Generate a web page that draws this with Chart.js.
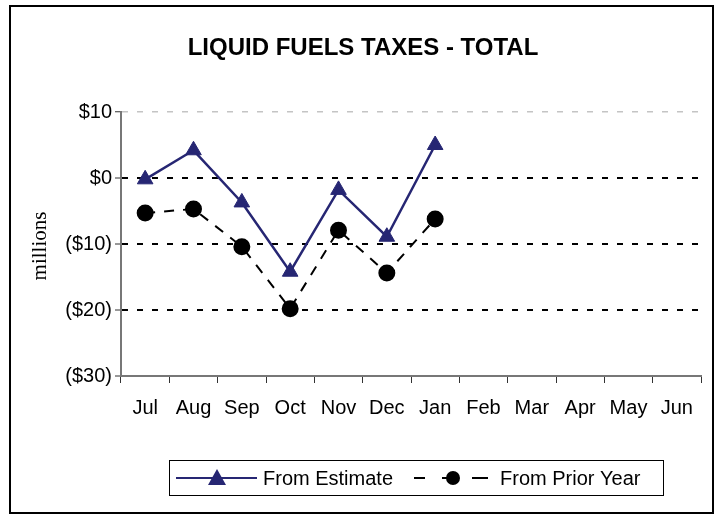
<!DOCTYPE html>
<html>
<head>
<meta charset="utf-8">
<script src="https://cdn.jsdelivr.net/npm/chart.js@4.4.0/dist/chart.umd.min.js"></script>
<style>
  html, body { margin: 0; padding: 0; background: #fff; }
  #wrap { width: 718px; height: 519px; position: relative; }
</style>
</head>
<body>
<div id="wrap"><canvas id="fuels" width="718" height="519"></canvas></div>
<script>
// data
const months = ["Jul", "Aug", "Sep", "Oct", "Nov", "Dec", "Jan", "Feb", "Mar", "Apr", "May", "Jun"];
const fromEstimate = [-0.2, 4.2, -3.7, -14.2, -1.8, -8.9, 5.0, null, null, null, null, null];
const fromPriorYear = [-5.3, -4.7, -10.4, -19.8, -7.9, -14.4, -6.2, null, null, null, null, null];
const yTicks = [10, 0, -10, -20, -30];

const NAVY = "#262673";
const AXIS = "#777777";

function money(v) {
  if (v < 0) return "($" + Math.abs(v) + ")";
  return "$" + v;
}

// frame, title, y label and the legend box
const decor = {
  id: "decor",
  beforeDraw(chart) {
    const c = chart.ctx;
    c.save();
    c.fillStyle = "#fff";
    c.fillRect(0, 0, chart.width, chart.height);
    c.restore();
  },
  afterDraw(chart) {
    const c = chart.ctx;
    c.save();
    // outer frame
    c.strokeStyle = "#000";
    c.lineWidth = 2;
    c.strokeRect(10, 6, 703, 507);

    // title
    c.fillStyle = "#000";
    c.font = "bold 24px 'Liberation Sans', Arial, sans-serif";
    c.textAlign = "center";
    c.textBaseline = "middle";
    c.fillText("LIQUID FUELS TAXES - TOTAL", 363, 48);

    // y axis title
    c.save();
    c.translate(40, 246);
    c.rotate(-Math.PI / 2);
    c.font = "21px 'Liberation Serif', 'Times New Roman', serif";
    c.fillText("millions", 0, 0);
    c.restore();

    // legend
    c.lineWidth = 1;
    c.strokeStyle = "#000";
    c.strokeRect(169.5, 460.5, 494, 35);
    const ly = 478;
    const ds = chart.data.datasets;
    c.font = "20px 'Liberation Sans', Arial, sans-serif";
    c.textAlign = "left";

    // from estimate sample
    c.strokeStyle = ds[0].borderColor;
    c.lineWidth = 2;
    c.beginPath(); c.moveTo(176, ly); c.lineTo(257, ly); c.stroke();
    c.fillStyle = ds[0].pointBackgroundColor;
    c.beginPath();
    c.moveTo(217, ly - 9); c.lineTo(226, ly + 7); c.lineTo(208, ly + 7); c.closePath();
    c.fill();
    c.fillStyle = "#000";
    c.fillText(ds[0].label, 263, ly + 1);

    // from prior year sample
    c.strokeStyle = "#000";
    c.lineWidth = 2;
    c.beginPath();
    c.moveTo(414, ly); c.lineTo(425, ly);
    c.moveTo(442, ly); c.lineTo(447, ly);
    c.moveTo(472, ly); c.lineTo(488, ly);
    c.stroke();
    c.fillStyle = "#000";
    c.beginPath(); c.arc(453, ly, 7, 0, Math.PI * 2); c.fill();
    c.fillText(ds[1].label, 500, ly + 1);
    c.restore();
  }
};

const chart = new Chart(document.getElementById("fuels"), {
  type: "line",
  data: {
    labels: months,
    datasets: [
      {
        label: "From Estimate",
        data: fromEstimate,
        borderColor: NAVY,
        borderWidth: 2.5,
        pointStyle: "triangle",
        pointRadius: 9,
        pointBackgroundColor: NAVY,
        pointBorderColor: NAVY,
        pointBorderWidth: 1,
        tension: 0,
        order: 1
      },
      {
        label: "From Prior Year",
        data: fromPriorYear,
        borderColor: "#000",
        borderWidth: 2,
        borderDash: [10, 9],
        pointStyle: "circle",
        pointRadius: 7.5,
        pointBackgroundColor: "#000",
        pointBorderColor: "#000",
        tension: 0,
        order: 2
      }
    ]
  },
  options: {
    responsive: false,
    animation: false,
    layout: { padding: { left: 0, top: 112, right: 17, bottom: 43 } },
    plugins: {
      legend: { display: false },
      title: { display: false },
      tooltip: { enabled: false }
    },
    scales: {
      x: {
        offset: true,
        afterFit: s => { s.height = 100; },
        grid: {
          offset: true,
          drawOnChartArea: false,
          drawTicks: true,
          tickLength: 7,
          tickColor: "#333",
          tickWidth: 1
        },
        border: { color: AXIS, width: 2 },
        ticks: {
          color: "#000",
          padding: 13,
          maxRotation: 0,
          autoSkip: false,
          font: { family: "'Liberation Sans', Arial, sans-serif", size: 20 }
        }
      },
      y: {
        min: Math.min(...yTicks),
        max: Math.max(...yTicks),
        afterFit: s => { s.width = 121; },
        afterBuildTicks: s => { s.ticks = yTicks.map(v => ({ value: v })); },
        grid: {
          drawTicks: true,
          tickLength: 6,
          tickColor: "#333",
          tickWidth: 1,
          lineWidth: ctx => (ctx.tick && ctx.tick.value === 10 ? 1.5 : 2),
          color: ctx => {
            if (!ctx.tick) return "transparent";
            if (ctx.tick.value === 10) return "#c4c4c4";
            if (ctx.tick.value === -30) return "transparent";
            return "#000";
          }
        },
        border: {
          color: AXIS,
          width: 2,
          dash: ctx => (ctx.type === "tick" ? [6, 9] : [])
        },
        ticks: {
          color: "#000",
          padding: 3,
          callback: v => money(v),
          font: { family: "'Liberation Sans', Arial, sans-serif", size: 20 }
        }
      }
    }
  },
  plugins: [decor]
});
</script>
</body>
</html>
